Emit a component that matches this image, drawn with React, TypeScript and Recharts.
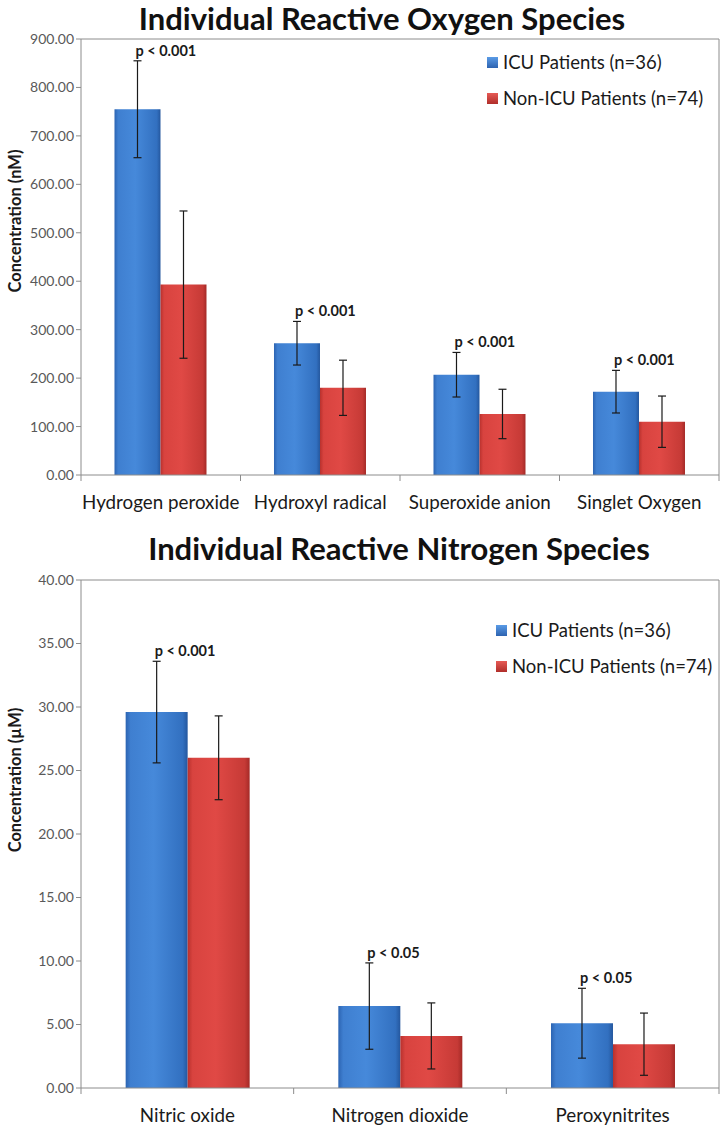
import { BarChart, Bar, XAxis, YAxis, ErrorBar, LabelList, Legend, ReferenceLine } from 'recharts'

// reactive oxygen species (nM)
const rosCategories = ['Hydrogen peroxide', 'Hydroxyl radical', 'Superoxide anion', 'Singlet Oxygen']
const rosIcu = [755, 272, 207, 172]
const rosIcuErr = [100, 45, 46, 44]
const rosNonIcu = [393, 180, 126, 110]
const rosNonIcuErr = [152, 57, 51, 53]
const rosP = ['p < 0.001', 'p < 0.001', 'p < 0.001', 'p < 0.001']
const rosTicks = [0, 100, 200, 300, 400, 500, 600, 700, 800, 900]

// reactive nitrogen species (µM)
const rnsCategories = ['Nitric oxide', 'Nitrogen dioxide', 'Peroxynitrites']
const rnsIcu = [29.6, 6.45, 5.1]
const rnsIcuErr = [4.0, 3.4, 2.75]
const rnsNonIcu = [26.0, 4.1, 3.45]
const rnsNonIcuErr = [3.3, 2.6, 2.45]
const rnsP = ['p < 0.001', 'p < 0.05', 'p < 0.05']
const rnsTicks = [0, 5, 10, 15, 20, 25, 30, 35, 40]

const seriesNames = ['ICU Patients (n=36)', 'Non-ICU Patients (n=74)']

const FONT = 'Lato, "Open Sans", sans-serif'
const FRAME = '#8c8c8c'
const CHART_W = 728
const AXIS_W = 81
const RIGHT_M = 8

function buildRows(cats: string[], icu: number[], icuErr: number[], non: number[], nonErr: number[], p: string[]) {
  return cats.map((name, i) => ({
    name,
    icu: icu[i],
    icuErr: icuErr[i],
    nonIcu: non[i],
    nonIcuErr: nonErr[i],
    p: p[i],
  }))
}

function CategoryTick(props: any) {
  const { x, y, payload, index, visibleTicksCount } = props
  const band = (CHART_W - AXIS_W - RIGHT_M - 1) / visibleTicksCount
  const axisY = y - 8
  return (
    <g>
      <line x1={x - band / 2} x2={x - band / 2} y1={axisY} y2={axisY + 6} stroke={FRAME} />
      {index === visibleTicksCount - 1 && (
        <line x1={x + band / 2} x2={x + band / 2} y1={axisY} y2={axisY + 6} stroke={FRAME} />
      )}
      <text x={x} y={axisY + 26} textAnchor="middle" dominantBaseline="central" fontSize={18.8} fill="#1a1a1a" fontFamily={FONT}>
        {payload.value}
      </text>
    </g>
  )
}

function LegendBox({ payload }: any) {
  return (
    <div style={{ fontFamily: FONT, fontSize: 18.5, color: '#1a1a1a' }}>
      {(payload || []).map((p: any, i: number) => (
        <div key={i} style={{ display: 'flex', alignItems: 'center', height: 36 }}>
          <span
            style={{
              display: 'inline-block',
              width: 11,
              height: 11,
              marginRight: 5,
              background: i === 0 ? 'linear-gradient(#5a9be6, #2d63b0)' : 'linear-gradient(#e65a55, #b02e2a)',
            }}
          />
          {p.value}
        </div>
      ))}
    </div>
  )
}

function makePLabel(icu: number[], icuErr: number[], p: string[]) {
  return (props: any) => {
    const { x, y, width, height, index } = props
    const perUnit = height / icu[index]
    const errTop = y - icuErr[index] * perUnit
    return (
      <text x={x + width / 2 - 2} y={errTop - 5} fontSize={14.5} fontWeight={700} fill="#1a1a1a" fontFamily={FONT}>
        {p[index]}
      </text>
    )
  }
}

interface PanelProps {
  rows: any[]
  ticks: number[]
  yLabel: string
  labelY: number
  height: number
  top: number
  bottom: number
  legendTop: number
  legendLeft: number
  icu: number[]
  icuErr: number[]
  p: string[]
}

function Panel({ rows, ticks, yLabel, labelY, height, top, bottom, legendTop, legendLeft, icu, icuErr, p }: PanelProps) {
  const max = ticks[ticks.length - 1]
  return (
    <BarChart
      width={CHART_W}
      height={height}
      data={rows}
      margin={{ top, right: RIGHT_M, left: 0, bottom }}
      barCategoryGap="21%"
      barGap={0}
    >
      <defs>
        <linearGradient id="blueFill" x1="0" y1="0" x2="1" y2="0">
          <stop offset="0%" stopColor="#2c64b2" />
          <stop offset="8%" stopColor="#3f7fd0" />
          <stop offset="45%" stopColor="#4689da" />
          <stop offset="92%" stopColor="#3270c0" />
          <stop offset="100%" stopColor="#24579e" />
        </linearGradient>
        <linearGradient id="redFill" x1="0" y1="0" x2="1" y2="0">
          <stop offset="0%" stopColor="#b8312d" />
          <stop offset="8%" stopColor="#d8433f" />
          <stop offset="45%" stopColor="#e04945" />
          <stop offset="92%" stopColor="#c63a36" />
          <stop offset="100%" stopColor="#a42a27" />
        </linearGradient>
      </defs>
      <XAxis
        dataKey="name"
        tickLine={false}
        axisLine={{ stroke: FRAME }}
        tick={<CategoryTick />}
        height={40}
        interval={0}
      />
      <YAxis
        domain={[0, max]}
        ticks={ticks}
        width={AXIS_W}
        tickSize={5}
        tickLine={{ stroke: FRAME }}
        axisLine={{ stroke: FRAME }}
        tickFormatter={(v: number) => v.toFixed(2)}
        tick={{ fontSize: 14, fill: '#595959', fontFamily: FONT }}
        label={{
          content: () => (
            <text
              x={15}
              y={labelY}
              transform={`rotate(-90, 15, ${labelY})`}
              textAnchor="middle"
              dominantBaseline="central"
              fontSize={16.5}
              fontWeight={700}
              fill="#1a1a1a"
              fontFamily={FONT}
            >
              {yLabel}
            </text>
          ),
        }}
      />
      {/* right edge of the frame */}
      <YAxis
        yAxisId="frame"
        orientation="right"
        domain={[0, max]}
        width={1}
        tick={false}
        tickLine={false}
        axisLine={{ stroke: FRAME }}
      />
      {/* top edge of the frame */}
      <ReferenceLine y={max} stroke={FRAME} ifOverflow="visible" />
      <Legend
        layout="vertical"
        align="center"
        verticalAlign="middle"
        content={<LegendBox />}
        wrapperStyle={{ top: legendTop, left: legendLeft, width: 240 }}
      />
      <Bar dataKey="icu" name={seriesNames[0]} fill="url(#blueFill)" isAnimationActive={false}>
        <ErrorBar dataKey="icuErr" width={4} stroke="#1a1a1a" strokeWidth={1.2} />
        <LabelList dataKey="p" content={makePLabel(icu, icuErr, p)} />
      </Bar>
      <Bar dataKey="nonIcu" name={seriesNames[1]} fill="url(#redFill)" isAnimationActive={false}>
        <ErrorBar dataKey="nonIcuErr" width={4} stroke="#1a1a1a" strokeWidth={1.2} />
      </Bar>
    </BarChart>
  )
}

const titleStyle: React.CSSProperties = {
  position: 'absolute',
  width: CHART_W,
  textAlign: 'center',
  fontFamily: FONT,
  fontWeight: 700,
  fontSize: 31,
  color: '#111',
  lineHeight: '36px',
}

export default function App() {
  const rosRows = buildRows(rosCategories, rosIcu, rosIcuErr, rosNonIcu, rosNonIcuErr, rosP)
  const rnsRows = buildRows(rnsCategories, rnsIcu, rnsIcuErr, rnsNonIcu, rnsNonIcuErr, rnsP)
  return (
    <div style={{ position: 'absolute', left: 0, top: 0, width: 728, height: 1129, background: '#fff', overflow: 'hidden' }}>
      <div style={{ position: 'absolute', left: 0, top: 0 }}>
        <Panel
          rows={rosRows}
          ticks={rosTicks}
          yLabel="Concentration (nM)"
          labelY={221}
          height={525}
          top={39}
          bottom={10}
          legendTop={44}
          legendLeft={487}
          icu={rosIcu}
          icuErr={rosIcuErr}
          p={rosP}
        />
      </div>
      <div style={{ ...titleStyle, left: 18, top: 0 }}>Individual Reactive Oxygen Species</div>
      <div style={{ position: 'absolute', left: 0, top: 530 }}>
        <Panel
          rows={rnsRows}
          ticks={rnsTicks}
          yLabel="Concentration (µM)"
          labelY={250}
          height={599}
          top={50}
          bottom={1}
          legendTop={82}
          legendLeft={496}
          icu={rnsIcu}
          icuErr={rnsIcuErr}
          p={rnsP}
        />
      </div>
      <div style={{ ...titleStyle, left: 35, top: 530 }}>Individual Reactive Nitrogen Species</div>
    </div>
  )
}
